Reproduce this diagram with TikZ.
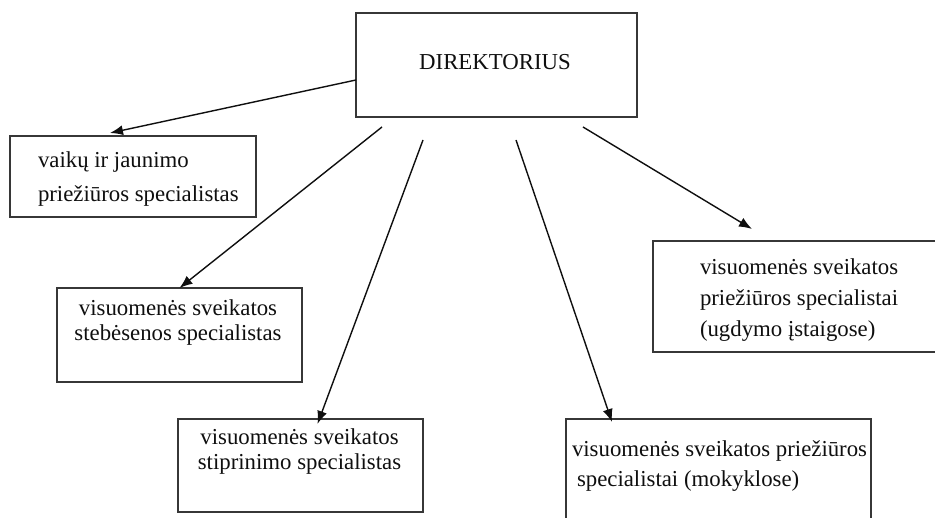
\documentclass[tikz,border=0pt]{standalone}
\usepackage{fontspec}
\setmainfont{Liberation Serif}
\usetikzlibrary{arrows.meta}

\begin{document}
\begin{tikzpicture}[x=1pt,y=1pt,
  box/.style={draw=boxColor,line width=1.6pt,inner sep=0pt,outer sep=0pt},
  txt/.style={text=drawColor,inner sep=0pt,outer sep=0pt,font=\fontsize{22.8}{#1}\selectfont},
  arr/.style={draw=drawColor,line width=1.4pt,-{Latex[length=13pt,width=10pt]}}]
\definecolor{fillColor}{RGB}{255,255,255}
\definecolor{drawColor}{RGB}{15,15,15}
\definecolor{boxColor}{RGB}{55,55,55}
\path[use as bounding box,fill=fillColor] (0,0) rectangle (935,518);
\begin{scope}
\path[clip] (0,0) rectangle (935,518);

% boxes
\node[box,minimum width=281,minimum height=104] (dir) at (496.5,453.0) {};
\node[box,minimum width=246,minimum height=81] (vaikai) at (133.0,341.5) {};
\node[box,minimum width=245,minimum height=94] (stebesena) at (179.5,183.0) {};
\node[box,minimum width=245,minimum height=93] (stiprinimas) at (300.5,52.5) {};
\node[box,minimum width=305,minimum height=111] (mokyklos) at (718.5,43.5) {};
\node[box,minimum width=297,minimum height=111] (ugdymas) at (801.5,221.5) {};

% texts
\node[txt=27,anchor=base] (dirT) at (495.0,448.6) {DIREKTORIUS};
\node[txt=34,anchor=base west,align=left] (vaikaiT) at (38.0,316.0)
  {vaikų ir jaunimo\\priežiūros specialistas};
\node[txt=25,anchor=base,align=center] (stebesenaT) at (178.0,177.0)
  {visuomenės sveikatos\\stebėsenos specialistas};
\node[txt=25,anchor=base,align=center] (stiprinimasT) at (299.5,48.0)
  {visuomenės sveikatos\\stiprinimo specialistas};
\node[txt=30,anchor=base west,align=left] (mokyklosT) at (572.0,31.0)
  {visuomenės sveikatos priežiūros\\\hspace*{5pt}specialistai (mokyklose)};
\node[txt=31,anchor=base west,align=left] (ugdymasT) at (700.0,181.0)
  {visuomenės sveikatos\\priežiūros specialistai\\(ugdymo įstaigose)};

% connectors
\coordinate (dA) at ([yshift=-15pt]dir.west);
\coordinate (dB) at ([xshift=26pt,yshift=-10pt]dir.south west);
\coordinate (dC) at ([xshift=67pt,yshift=-23pt]dir.south west);
\coordinate (dD) at ([xshift=160pt,yshift=-23pt]dir.south west);
\coordinate (dE) at ([xshift=227pt,yshift=-10pt]dir.south west);

\draw[arr] (dA) -- ([xshift=-23pt,yshift=3pt]vaikai.north);
\draw[arr] (dB) -- (stebesena.north);
\draw[arr] (dC) -- ([xshift=17pt,yshift=-5pt]stiprinimas.north);
\draw[arr] (dD) -- ([xshift=46pt,yshift=-3pt]mokyklos.north west);
\draw[arr] (dE) -- ([xshift=99pt,yshift=12pt]ugdymas.north west);
\end{scope}
\end{tikzpicture}
\end{document}
